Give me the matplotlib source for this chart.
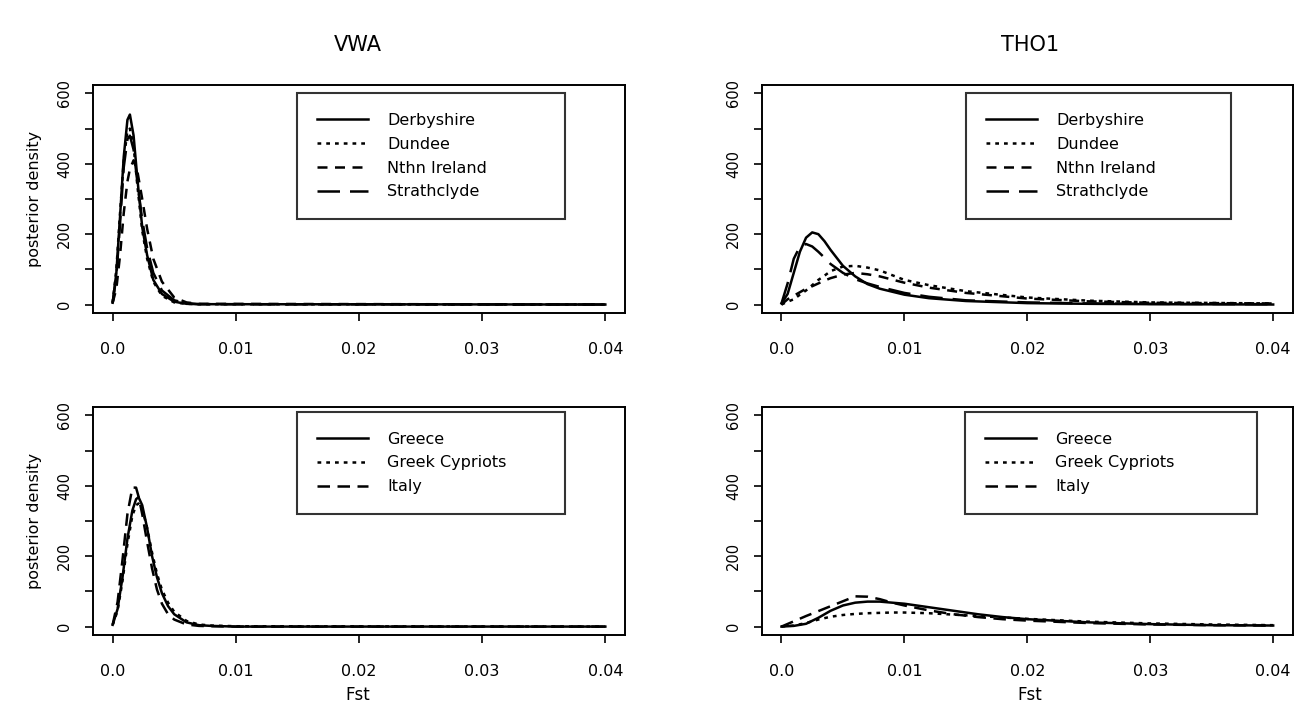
import numpy as np
import matplotlib
matplotlib.use("Agg")
import matplotlib.pyplot as plt

plt.rcParams["font.family"] = ["DejaVu Sans"]

# --- data ---
vwa_a_x = [0, 0.0003, 0.0006, 0.0009, 0.0012, 0.0014, 0.0017, 0.002, 0.0024,
           0.0028, 0.0033, 0.004, 0.005, 0.006, 0.007, 0.04]
vwa_a = {
    "Derbyshire": [5, 90, 250, 420, 525, 540, 480, 360, 220, 140, 70, 30, 8, 2, 1, 0],
    "Dundee": [5, 100, 260, 410, 495, 500, 450, 340, 210, 130, 65, 25, 6, 2, 1, 0],
    "Nthn Ireland": [5, 45, 140, 260, 350, 385, 410, 380, 300, 215, 130, 65, 20, 6, 2, 0],
    "Strathclyde": [5, 80, 230, 390, 470, 480, 440, 350, 240, 160, 90, 40, 12, 4, 1, 0],
}

tho_a_x = [0, 0.0005, 0.001, 0.0015, 0.002, 0.0025, 0.003, 0.0035, 0.004, 0.005,
           0.006, 0.007, 0.008, 0.01, 0.012, 0.015, 0.02, 0.025, 0.03, 0.04]
tho_a = {
    "Derbyshire": [3, 30, 90, 150, 190, 205, 200, 180, 155, 110, 80, 58, 45, 28, 18, 10, 4, 2, 1, 0],
    "Dundee": [0, 8, 15, 28, 40, 55, 70, 82, 95, 108, 110, 105, 97, 70, 55, 38, 20, 11, 6, 3],
    "Nthn Ireland": [0, 15, 25, 35, 45, 52, 60, 68, 75, 85, 90, 86, 80, 62, 48, 33, 17, 9, 5, 3],
    "Strathclyde": [3, 60, 130, 165, 172, 165, 150, 133, 115, 90, 72, 60, 50, 33, 22, 12, 6, 3, 2, 1],
}

vwa_b_x = [0, 0.0004, 0.0008, 0.0012, 0.0016, 0.0019, 0.0021, 0.0024, 0.0028, 0.0032,
           0.0036, 0.004, 0.0045, 0.005, 0.006, 0.007, 0.008, 0.01, 0.04]
vwa_b = {
    "Greece": [5, 50, 140, 250, 330, 362, 368, 345, 280, 200, 140, 95, 58, 35, 12, 4, 2, 0, 0],
    "Greek Cypriots": [5, 45, 130, 235, 315, 345, 350, 335, 280, 210, 150, 105, 68, 42, 16, 6, 3, 1, 0],
    "Italy": [5, 70, 190, 320, 395, 395, 370, 320, 240, 165, 105, 65, 35, 20, 6, 2, 1, 0, 0],
}

tho_b_x = [0, 0.001, 0.002, 0.003, 0.004, 0.005, 0.006, 0.007, 0.008, 0.009, 0.01,
           0.012, 0.014, 0.016, 0.018, 0.02, 0.025, 0.03, 0.035, 0.04]
tho_b = {
    "Greece": [0, 2, 8, 25, 45, 60, 68, 71, 71, 68, 65, 55, 45, 35, 27, 21, 12, 7, 4, 3],
    "Greek Cypriots": [0, 3, 10, 20, 28, 33, 36, 38, 39, 40, 40, 38, 34, 30, 26, 22, 14, 9, 6, 4],
    "Italy": [0, 15, 30, 44, 58, 72, 86, 85, 78, 68, 60, 46, 35, 27, 21, 17, 10, 6, 4, 3],
}

x_ticks = [0.0, 0.01, 0.02, 0.03, 0.04]
x_ticklabels = ["0.0", "0.01", "0.02", "0.03", "0.04"]
y_ticks = [0, 200, 400, 600]

styles_4 = ["-", (0, (1.5, 2)), (0, (4, 3)), (0, (9, 4))]
styles_3 = ["-", (0, (1.5, 2)), (0, (5, 3))]


def draw_panel(ax, xs, curves, styles, legend_box, ylabel=False):
    for (name, ys), ls in zip(curves.items(), styles):
        ax.plot(xs, ys, color="black", linestyle=ls, linewidth=1.8, label=name)
    ax.set_xlim(-0.0016, 0.0416)
    ax.set_ylim(-24, 624)
    ax.set_xticks(x_ticks)
    ax.set_xticklabels(x_ticklabels)
    ax.set_yticks(y_ticks)
    ax.set_yticks([100, 300, 500], minor=True)
    ax.set_yticklabels([str(v) for v in y_ticks], rotation=90, va="center")
    ax.tick_params(axis="both", which="both", direction="out", length=6,
                   width=1.2)
    ax.tick_params(axis="x", pad=15, labelsize=11.5)
    ax.tick_params(axis="y", pad=9, labelsize=10.5)
    for s in ax.spines.values():
        s.set_linewidth(1.4)
    if ylabel:
        ax.set_ylabel("posterior density", fontsize=11.5, labelpad=11)
    leg = ax.legend(loc="upper left", bbox_to_anchor=legend_box, mode="expand",
                    fontsize=11.5, frameon=True, fancybox=False, edgecolor="black",
                    handlelength=3.2, handletextpad=1.2, labelspacing=0.55,
                    borderpad=1.25, borderaxespad=0)
    leg.get_frame().set_linewidth(1.5)


fig = plt.figure(figsize=(13, 7.27), dpi=100)
ax1 = fig.add_axes([0.0715, 0.5695, 0.4093, 0.3136])
ax2 = fig.add_axes([0.586, 0.5695, 0.4085, 0.3136])
ax3 = fig.add_axes([0.0715, 0.1265, 0.4093, 0.3136])
ax4 = fig.add_axes([0.586, 0.1265, 0.4085, 0.3136])

draw_panel(ax1, vwa_a_x, vwa_a, styles_4, (0.383, 0.965, 0.504, 0.0), ylabel=True)
draw_panel(ax2, tho_a_x, tho_a, styles_4, (0.384, 0.965, 0.5, 0.0))
draw_panel(ax3, vwa_b_x, vwa_b, styles_3, (0.383, 0.98, 0.504, 0.0), ylabel=True)
draw_panel(ax4, tho_b_x, tho_b, styles_3, (0.382, 0.98, 0.55, 0.0))

fig.text(0.275, 0.938, "VWA", ha="center", va="center", fontsize=15)
fig.text(0.792, 0.938, "THO1", ha="center", va="center", fontsize=15)
fig.text(0.275, 0.044, "Fst", ha="center", va="center", fontsize=12)
fig.text(0.792, 0.044, "Fst", ha="center", va="center", fontsize=12)

fig.savefig("out.png", dpi=100)
